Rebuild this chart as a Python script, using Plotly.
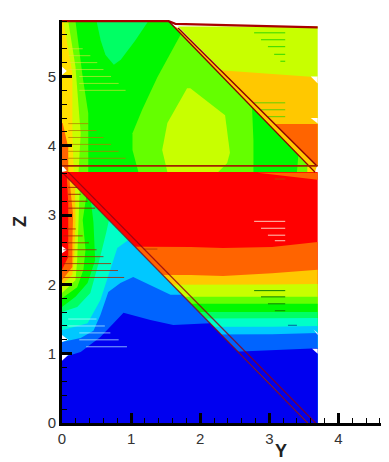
import plotly.graph_objects as go

BLUE, ROYAL, SKY, SEA, SPRING, GREEN, LIME, YGREEN, AMBER, ORANGE, RED = (
    "#0000f0", "#0064ff", "#00c8ff", "#00ffc8", "#00ff64", "#00f800",
    "#64ff00", "#c8ff00", "#ffc800", "#ff6400", "#ff0000")
YEL = "#ffe000"

# ---- right-hand lower zone: level boundaries Z(Y)
lr_y = [0, 1.86, 2.33, 3.04, 3.7]
lr_orange = [2.55, 2.54, 2.525, 2.54, 2.61]
lr_amber = [2.14, 2.136, 2.12, 2.16, 2.21]
lr_ygreen = [1.99, 1.99, 2.0, 2.0, 2.006]
lr_lime = [1.82, 1.82, 1.82, 1.82, 1.82]
lr_green = [1.72, 1.72, 1.72, 1.72, 1.72]
lr_spring = [1.60, 1.60, 1.60, 1.60, 1.60]
lr_sea = [1.50, 1.50, 1.50, 1.51, 1.515]
lr_sky = [1.385, 1.385, 1.385, 1.39, 1.40]
lr_royal = [1.27, 1.27, 1.27, 1.28, 1.30]
lr_blue = [1.0, 1.0, 1.02, 1.05, 1.08]
wedge_y = [2.83, 3.7, 3.7]
wedge_z = [3.61, 3.61, 3.51]

# ---- lower-left triangle: level boundaries, x=0 to the diagonal
ll = [
    (ORANGE, [0, .09, .09, .07], [2.21, 2.395, 3.17, 3.55]),
    (AMBER, [0, .15, .15, .16, .108], [2.06, 2.25, 2.60, 3.0, 3.51]),
    (YGREEN, [0, .15, .18, .195, .187], [1.99, 2.14, 2.45, 2.93, 3.43]),
    (LIME, [0, .195, .22, .24, .255], [1.876, 2.06, 2.35, 2.83, 3.36]),
    (GREEN, [0, .22, .31, .34, .30, .35], [1.80, 1.96, 2.21, 2.50, 2.93, 3.26]),
    (SPRING, [0, .195, .37, .48, .455, .42], [1.674, 1.82, 2.02, 2.35, 2.9, 3.19]),
    (SEA, [0, .22, .41, .53, .64, .68], [1.60, 1.674, 1.876, 2.31, 2.75, 2.93]),
    (SKY, [0, .37, .556, .70, .80, .96], [1.34, 1.44, 1.775, 2.21, 2.525, 2.64]),
    (ROYAL, [0, .27, .455, .556, .67, .845, 1.03, 1.28, 1.57, 1.74],
     [1.17, 1.227, 1.33, 1.56, 1.89, 2.02, 2.107, 1.99, 1.85, 1.85]),
    (BLUE, [0, .27, .556, .89, 1.28, 1.61, 2.14],
     [.94, 1.025, 1.24, 1.59, 1.486, 1.414, 1.44]),
]
tri_y = [0, 3.555, 0]
tri_z = [3.62, 0, 0]

# ---- upper zone
up_y = [0, 0, 1.54, 3.66]
up_z = [3.62, 5.8, 5.8, 3.62]
up = [
    (SPRING, [.50, 1.25, 1.06, .85, .75, .63, .56], [5.8, 5.8, 5.52, 5.24, 5.17, 5.31, 5.52]),
    (LIME, [1.72, 1.38, 1.16, 1.02, 1.02, 1.105, 2.77, 2.77, 2.75],
     [5.61, 4.99, 4.52, 4.18, 3.94, 3.62, 3.62, 4.08, 4.55]),
    (YGREEN, [1.81, 1.525, 1.45, 1.525, 2.26, 2.39, 2.43, 2.36, 1.857],
     [4.83, 4.33, 3.94, 3.62, 3.62, 3.75, 3.90, 4.44, 4.83]),
    (LIME, [3.40, 3.42, 3.66], [3.62, 3.86, 3.62]),
    (YEL, [3.55, 3.55, 3.66], [3.62, 3.72, 3.62]),
    (LIME, [0, .195, .30, .38, .38, 0], [5.8, 5.8, 4.99, 4.47, 3.62, 3.62]),
    (YGREEN, [0, .09, .195, .27, .24, 0], [5.8, 5.8, 5.14, 4.18, 3.62, 3.62]),
    (YEL, [0, .02, .15, .15, .17, 0], [5.8, 5.8, 5.05, 4.18, 3.62, 3.62]),
    (ORANGE, [0, .01, .09, .09, 0], [4.33, 4.33, 3.98, 3.62, 3.62]),
]

# ---- upper right zone
tr = [
    (YGREEN, [1.68, 3.7, 3.7, 3.69], [5.72, 5.72, 3.71, 3.71]),
    (AMBER, [2.29, 3.7, 3.7, 3.69], [5.09, 4.99, 3.71, 3.71]),
    (ORANGE, [3.07, 3.7, 3.7, 3.69], [4.315, 4.315, 3.71, 3.71]),
    (AMBER, [1.60, 1.68, 3.69, 3.66], [5.74, 5.70, 3.71, 3.62]),
]

# ---- white notches along the outer edges of the field
notches = [
    ([3.6, 3.7, 3.7], [5.0, 5.0, 4.9]),
    ([3.6, 3.7, 3.7], [4.4, 4.4, 4.32]),
    ([3.62, 3.7, 3.7], [1.07, 1.07, 1.0]),
    ([3.64, 3.7, 3.7], [1.35, 1.3, 1.27]),
    ([0, .09, 0], [1.0, .98, .90]),
    ([0, .09, 0], [1.27, 1.2, 1.17]),
    ([0, .07, 0], [3.72, 3.64, 3.62]),
    ([0, .07, 0], [5.14, 5.08, 5.02]),
    ([0, .07, 0], [2.55, 2.5, 2.45]),
]

# ---- structural lines
lines = [
    ([0, 1.54, 1.64, 3.7], [5.8, 5.8, 5.76, 5.71], "#a80000", 2.2),
    ([1.54, 3.66], [5.8, 3.62], "#8a0000", 1.4),
    ([1.68, 3.69], [5.70, 3.71], "#8a0000", 1.4),
    ([0, 3.7], [3.71, 3.71], "#a02000", 1.8),
    ([0, 3.555], [3.62, 0], "rgba(140,0,20,0.8)", 1.4),
    ([.09, 3.67], [3.62, 0], "rgba(140,0,20,0.8)", 1.4),
]

# ---- profile streaks: colour, start Y list, end Y list, Z list
streaks = [
    ("rgba(235,225,60,0.6)", [.09, .09, .09, .09, .25, .25, .25], [.30, .41, .51, .60, .71, .82, .92],
     [5.40, 5.30, 5.20, 5.10, 5.00, 4.90, 4.80]),
    ("rgba(175,125,0,0.75)", [.09] * 6, [.38, .50, .60, .71, .82, .92],
     [4.32, 4.22, 4.12, 4.02, 3.92, 3.82]),
    ("rgba(150,20,0,0.85)", [.09] * 4, [.22, .27, .37, .48], [3.40, 3.30, 3.20, 3.10]),
    ("rgba(165,35,0,0.8)", [.02] * 8, [.20, .30, .39, .50, .60, .71, .81, .90],
     [2.80, 2.70, 2.60, 2.50, 2.40, 2.30, 2.20, 2.10]),
    ("rgba(190,245,255,0.7)", [.09, .09, .25, .25, .35], [.50, .62, .70, .82, .94],
     [1.50, 1.40, 1.30, 1.20, 1.10]),
    ("#30d800", [2.78, 2.88, 2.98, 3.07, 3.16], [3.23] * 5, [5.63, 5.53, 5.43, 5.32, 5.22]),
    ("#60d000", [2.78, 2.88, 2.98], [3.23] * 3, [4.62, 4.52, 4.42]),
    ("#ffc8b8", [2.78, 2.88, 2.98, 3.08], [3.23] * 4, [2.91, 2.81, 2.71, 2.63]),
    ("#108000", [2.78, 2.88, 2.98, 3.08], [3.23] * 4, [1.91, 1.82, 1.72, 1.62]),
    ("#c04000", [3.08, 1.18], [3.23, 1.38], [3.52, 2.51]),
    ("#0060a0", [3.27], [3.40], [1.41]),
]

x_ticks = [0, 1, 2, 3, 4]
z_ticks = [0, 1, 2, 3, 4, 5]

fig = go.Figure()


def poly(xs, ys, color):
    fig.add_trace(go.Scatter(x=list(xs) + [xs[0]], y=list(ys) + [ys[0]], mode="lines",
                             fill="toself", fillcolor=color, line=dict(width=0, color=color),
                             hoverinfo="skip", showlegend=False))


# lower right stack
poly([0, 3.7, 3.7, 0], [3.62, 3.62, 0, 0], RED)
poly(wedge_y, wedge_z, ORANGE)
for col, arr in [(ORANGE, lr_orange), (AMBER, lr_amber), (YGREEN, lr_ygreen), (LIME, lr_lime),
                 (GREEN, lr_green), (SPRING, lr_spring), (SEA, lr_sea), (SKY, lr_sky),
                 (ROYAL, lr_royal), (BLUE, lr_blue)]:
    poly(lr_y + [3.7, 0], arr + [0, 0], col)

# lower-left triangle
poly(tri_y, tri_z, RED)
for col, ys, zs in ll:
    poly(ys + [3.555, 0], zs + [0, 0], col)

# upper
poly(up_y, up_z, GREEN)
for col, ys, zs in up:
    poly(ys, zs, col)
for col, ys, zs in tr:
    poly(ys, zs, col)

for ys, zs in notches:
    poly(ys, zs, "white")

for col, x0, x1, zs in streaks:
    xs, ys = [], []
    for a, b, z in zip(x0, x1, zs):
        xs += [a, b, None]
        ys += [z, z, None]
    fig.add_trace(go.Scatter(x=xs, y=ys, mode="lines", line=dict(color=col, width=1),
                             hoverinfo="skip", showlegend=False))

for xs, ys, col, w in lines:
    fig.add_trace(go.Scatter(x=xs, y=ys, mode="lines", line=dict(color=col, width=w),
                             hoverinfo="skip", showlegend=False))

axis_common = dict(showgrid=False, zeroline=False, showline=True, linecolor="black", linewidth=3,
                   ticks="inside", ticklen=10, tickwidth=2.5, tickcolor="black",
                   tickfont=dict(family="Liberation Sans", size=15, color="#333"),
                   minor=dict(ticks="inside", ticklen=5, tickwidth=1, tickcolor="black",
                              dtick=0.2, showgrid=False))
fig.update_layout(
    width=381, height=454, autosize=False,
    margin=dict(l=53.5, r=0, t=12, b=39),
    paper_bgcolor="white", plot_bgcolor="white", showlegend=False,
    xaxis=dict(range=[0, 4.732], tickvals=x_ticks, ticktext=[str(v) for v in x_ticks],
               **axis_common),
    yaxis=dict(range=[0, 5.815], tickvals=z_ticks, ticktext=[str(v) for v in z_ticks],
               title=dict(text="<b>Z</b>", font=dict(family="Liberation Sans", size=18, color="#222"),
                          standoff=17), **axis_common),
    annotations=[dict(text="<b>Y</b>", xref="x", x=3.17, yref="paper", y=0, yanchor="top", yshift=-16,
                      showarrow=False, font=dict(family="Liberation Sans", size=18, color="#222"))],
)
fig.write_html("out.html")
